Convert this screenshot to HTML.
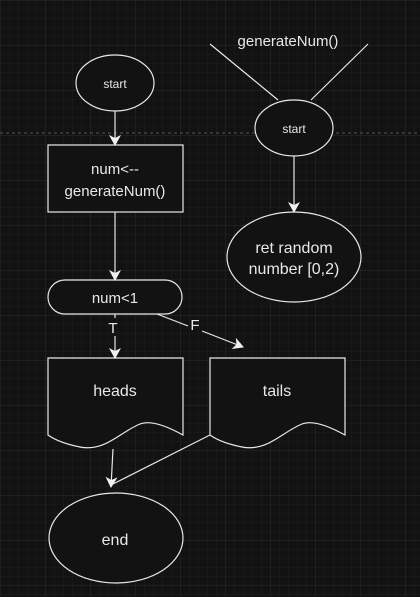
<!DOCTYPE html>
<html><head><style>
html,body{margin:0;padding:0;background:#121212;}
svg{display:block;}
text{font-family:"Liberation Sans",sans-serif;fill:#e8e8e8;text-anchor:middle;}
</style></head><body>
<svg width="420" height="597" viewBox="0 0 420 597" xmlns="http://www.w3.org/2000/svg">
<defs>
<pattern id="minor" width="9" height="9" patternUnits="userSpaceOnUse">
<path d="M9 0H0V9" fill="none" stroke="#1f1f1f" stroke-width="1"/>
</pattern>
<pattern id="major" width="45" height="45" patternUnits="userSpaceOnUse">
<rect width="45" height="45" fill="url(#minor)"/>
<path d="M45 0H0V45" fill="none" stroke="#2c2c2c" stroke-width="1"/>
</pattern>
<marker id="ah" markerWidth="12" markerHeight="12" refX="10" refY="6" orient="auto" markerUnits="userSpaceOnUse">
<path d="M0,0 L11,6 L0,12 L3,6 Z" fill="#f0f0f0"/>
</marker>
</defs>
<rect width="420" height="597" fill="#121212"/>
<rect width="420" height="597" fill="url(#major)"/>
<line x1="0" y1="133" x2="420" y2="133" stroke="#555" stroke-dasharray="3,3"/>

<g fill="#121212" stroke="#e8e8e8" stroke-width="1.2">
<ellipse cx="115" cy="83" rx="39" ry="28"/>
<rect x="48" y="145" width="135" height="67"/>
<rect x="48" y="280" width="134" height="34" rx="17"/>
<path d="M48,358 H183 V435 C165,425 150,420 140,424 C120,432 105,452 80,447 C65,444 55,440 48,435 Z"/>
<path d="M210,358 H345 V435 C327,425 312,420 302,424 C282,432 267,452 242,447 C227,444 217,440 210,435 Z"/>
<ellipse cx="116" cy="538" rx="67" ry="45"/>
<ellipse cx="294" cy="128" rx="39" ry="28"/>
<ellipse cx="294" cy="257" rx="67" ry="45"/>
</g>

<g stroke="#e8e8e8" stroke-width="1.2" fill="none">
<line x1="115" y1="111" x2="115" y2="145" marker-end="url(#ah)"/>
<line x1="115" y1="212" x2="115" y2="280" marker-end="url(#ah)"/>
<line x1="115" y1="314" x2="115" y2="318"/>
<line x1="115" y1="336" x2="115" y2="358" marker-end="url(#ah)"/>
<line x1="157" y1="314" x2="188" y2="326"/>
<line x1="202" y1="331" x2="243" y2="347" marker-end="url(#ah)"/>
<line x1="113" y1="449" x2="111" y2="487" marker-end="url(#ah)"/>
<line x1="210" y1="435" x2="113" y2="484"/>
<line x1="210" y1="44" x2="278" y2="100"/>
<line x1="368" y1="44" x2="311" y2="100"/>
<line x1="294" y1="156" x2="294" y2="212" marker-end="url(#ah)"/>
</g>

<text x="115" y="88" font-size="12">start</text>
<text x="294" y="133" font-size="12">start</text>
<text x="115" y="174" font-size="15">num&lt;--</text>
<text x="115" y="196" font-size="15">generateNum()</text>
<text x="115" y="303" font-size="15">num&lt;1</text>
<text x="113" y="333" font-size="15">T</text>
<text x="195" y="330" font-size="15">F</text>
<text x="115" y="396" font-size="16">heads</text>
<text x="277" y="396" font-size="16">tails</text>
<text x="115" y="545" font-size="16">end</text>
<text x="288" y="46" font-size="15">generateNum()</text>
<text x="294" y="253" font-size="16">ret random</text>
<text x="294" y="274" font-size="16">number [0,2)</text>
</svg>
</body></html>
